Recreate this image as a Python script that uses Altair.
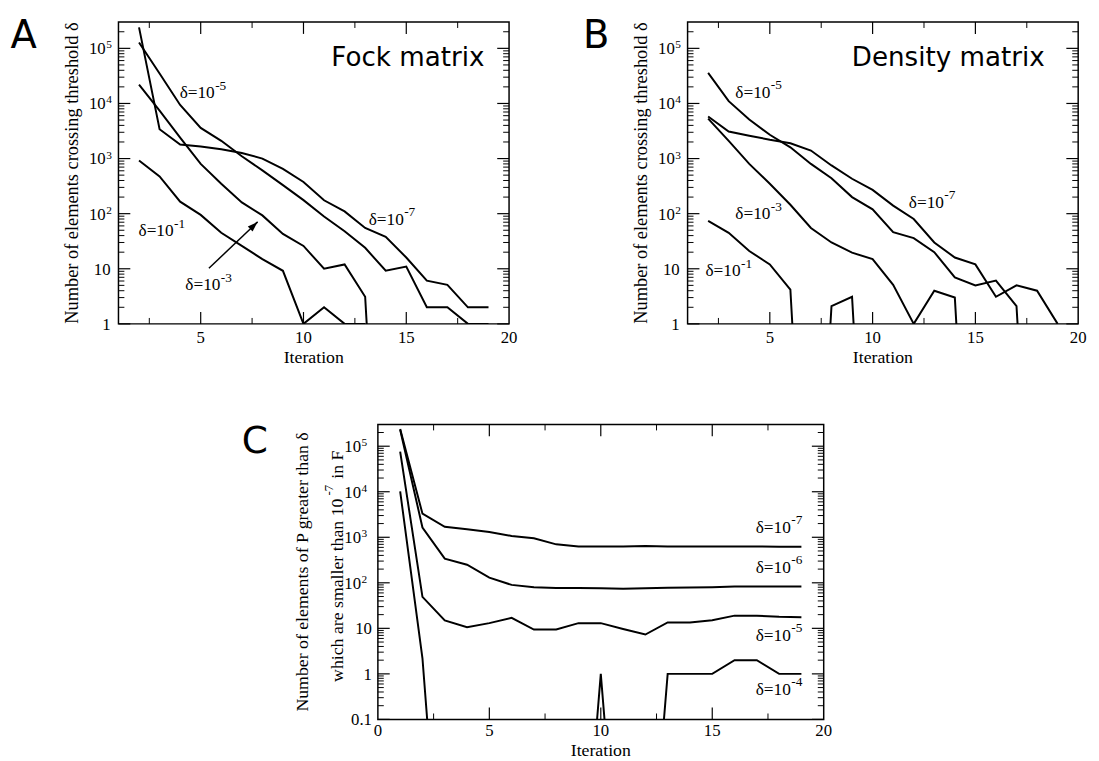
import altair as alt
import pandas as pd

SERIF = "Liberation Serif"
SANS = "DejaVu Sans"
FLOOR = 1e-6  # zero counts: drawn at an off-scale floor so the line drops out of the log axis

# ---------------- Panel A : Fock matrix (iterations start at 2) ----------------
fock_start = 2
fock_d1 = [920, 475, 165, 95, 45, 26, 15, 9.2, 1, 2, 1, 1]
fock_d3 = [2.2e4, 7.4e3, 2.4e3, 800, 350, 160, 93, 43, 26, 10, 12, 3.1, 0]
fock_d5 = [1.28e5, 3.5e4, 9.4e3, 3.6e3, 2.1e3, 1.1e3, 610, 330, 176, 89, 48, 24, 9.2, 11, 2, 2, 1, 1]
fock_d7 = [2.4e5, 3.4e3, 1.8e3, 1.65e3, 1.48e3, 1.26e3, 1.0e3, 650, 375, 175, 110, 55, 38, 16, 6.1, 5.1, 2, 2]

# ---------------- Panel B : Density matrix (iterations start at 2) ----------------
dens_start = 2
dens_d1 = [74, 45, 21, 12, 4.2, 0, 2.1, 3.1, 0]
dens_d3 = [5.3e3, 2.1e3, 800, 350, 145, 55, 30, 19.6, 15, 5.1, 1, 4, 3, 0]
dens_d5 = [3.6e4, 1.1e4, 5.1e3, 2.7e3, 1.6e3, 800, 440, 200, 120, 46, 36, 20, 7, 5, 6.1, 2.1, 0]
dens_d7 = [5.8e3, 3.1e3, 2.6e3, 2.2e3, 1.9e3, 1.4e3, 750, 430, 270, 140, 80, 30, 16, 12, 3.1, 5, 4, 1]

# ---------------- Panel C : elements of P > delta but < 1e-7 in F (start at 1) ----------------
pf_start = 1
pf_d7 = [2.4e5, 3.3e3, 1.7e3, 1.5e3, 1.3e3, 1.07e3, 950, 700, 630, 630, 630, 640, 630, 630, 630, 630, 630, 620, 620]
pf_d6 = [2.3e5, 1.64e3, 340, 250, 130, 90, 80, 77, 77, 76, 74, 76, 78, 79, 80, 83, 83, 83, 83]
pf_d5 = [7.6e4, 49, 15, 10.6, 13, 17, 9.4, 9.4, 13, 13, 9.7, 7.3, 13.5, 13.5, 15, 19, 19, 18, 17.5]
pf_d4 = [1.02e4, 2.2, 0, 0, 0, 0, 0, 0, 0, 1, 0, 0, 1, 1, 1, 2, 2, 1, 1]

# ---------------- axes / tick values ----------------
x_labels_ab = [5, 10, 15, 20]
x_labels_c = [0, 5, 10, 15, 20]
x_major = [5, 10, 15]
x_minor = [2.5, 7.5, 12.5, 17.5]
y_plain_ab = [1, 10]
y_plain_ab_text = ["1", "10"]
y_plain_c = [0.1, 1, 10]
y_plain_c_text = ["0.1", "1", "10"]
y_pow = [1e2, 1e3, 1e4, 1e5]
y_pow_exp = ["2", "3", "4", "5"]

# ---------------- curve labels (anchor in data units) ----------------
fock_lab_x = [3.975, 13.17, 1.975, 4.25]
fock_lab_y = [1.26e4, 63, 39.5, 4.06]
fock_lab_e = ["-5", "-7", "-1", "-3"]
dens_lab_x = [3.32, 11.76, 3.32, 1.87]
dens_lab_y = [1.28e4, 129, 80, 7.3]
dens_lab_e = ["-5", "-7", "-3", "-1"]
pf_lab_x = [16.95, 16.95, 16.95, 16.95]
pf_lab_y = [1.26e3, 166, 5.4, 0.35]
pf_lab_e = ["-7", "-6", "-5", "-4"]

# arrow in panel A (tail -> tip, data units)
arrow_x = [5.4, 7.77]
arrow_y = [10.2, 71]

FS_TICK, FS_TICK_EXP = 17, 11.5
FS_ANN, FS_ANN_EXP = 17.5, 13.5
FS_XTITLE = 18


def series_df(start, named):
    rows = []
    for name, vals in named.items():
        for i, v in enumerate(vals):
            rows.append({"iter": start + i, "value": v if v > 0 else FLOOR, "series": name})
    return pd.DataFrame(rows)


def log_ticks(lo_exp, top):
    major = [10.0 ** e for e in range(lo_exp, 6)]
    minor = [k * 10.0 ** e for e in range(lo_exp, 6) for k in range(2, 10) if k * 10.0 ** e < top]
    return major, minor


def one(d):
    return pd.DataFrame(d)


def txt(text, x, y, size, font=SERIF, align="left", angle=0):
    kw = dict(align=align, baseline="alphabetic", font=font, fontSize=size, color="black")
    if angle:
        kw["angle"] = angle
    return alt.Chart(one({"t": [text]})).mark_text(**kw).encode(
        x=alt.value(x), y=alt.value(y), text="t:N")


def frame(x0, x1, y0, y1):
    # invisible layout frame defining the panel's bounding box
    return alt.Chart(one({"k": [0]})).mark_rule(strokeOpacity=0, strokeWidth=0).encode(
        x=alt.value(x0), x2=alt.value(x1), y=alt.value(y0), y2=alt.value(y1))


def panel(p):
    W, H = p["W"], p["H"]
    xs = alt.Scale(domain=p["xdom"], nice=False, zero=False)
    ys = alt.Scale(type="log", domain=p["ydom"], nice=False)
    L_MAJ, L_MIN = 12, 6
    layers = [frame(*p["frame"])]

    ymaj, ymin = log_ticks(p["lo_exp"], p["ydom"][1])

    def rules_y(vals, a, b, sw):
        return alt.Chart(one({"v": vals})).mark_rule(color="black", strokeWidth=sw).encode(
            y=alt.Y("v:Q", scale=ys, axis=None), x=alt.value(a), x2=alt.value(b))

    def rules_x(vals, a, b, sw):
        return alt.Chart(one({"v": vals})).mark_rule(color="black", strokeWidth=sw).encode(
            x=alt.X("v:Q", scale=xs, axis=None), y=alt.value(a), y2=alt.value(b))

    layers += [
        rules_y(ymin, 0, L_MIN, 1), rules_y(ymin, W - L_MIN, W, 1),
        rules_y(ymaj, 0, L_MAJ, 1.2), rules_y(ymaj, W - L_MAJ, W, 1.2),
        rules_x(x_minor, H, H - L_MIN, 1), rules_x(x_minor, 0, L_MIN, 1),
        rules_x(x_major, H, H - L_MAJ, 1.2), rules_x(x_major, 0, L_MAJ, 1.2),
    ]

    layers.append(alt.Chart(p["lines"]).mark_line(color="black", strokeWidth=2, clip=True).encode(
        x=alt.X("iter:Q", scale=xs, axis=None),
        y=alt.Y("value:Q", scale=ys, axis=None),
        detail="series:N",
    ))

    # x tick labels + title
    layers.append(alt.Chart(one({"v": p["xlabels"], "t": [str(v) for v in p["xlabels"]]})).mark_text(
        align="center", baseline="alphabetic", font=SERIF, fontSize=FS_TICK, color="black").encode(
        x=alt.X("v:Q", scale=xs, axis=None), y=alt.value(H + p["xlab_dy"]), text="t:N"))
    layers.append(txt("Iteration", W / 2, H + p["xtitle_dy"], FS_XTITLE, align="center"))

    # y tick labels
    layers.append(alt.Chart(one({"v": p["plain_v"], "t": p["plain_t"]})).mark_text(
        align="right", baseline="alphabetic", dy=6, font=SERIF, fontSize=FS_TICK, color="black").encode(
        x=alt.value(p["plain_x"]), y=alt.Y("v:Q", scale=ys, axis=None), text="t:N"))
    pw = one({"v": y_pow, "b": ["10"] * len(y_pow), "e": y_pow_exp})
    layers.append(alt.Chart(pw).mark_text(
        align="right", baseline="alphabetic", dy=6, font=SERIF, fontSize=FS_TICK, color="black").encode(
        x=alt.value(p["pow_x"]), y=alt.Y("v:Q", scale=ys, axis=None), text="b:N"))
    layers.append(alt.Chart(pw).mark_text(
        align="left", baseline="alphabetic", dy=0, font=SERIF, fontSize=FS_TICK_EXP, color="black").encode(
        x=alt.value(p["pow_x"] + 0.5), y=alt.Y("v:Q", scale=ys, axis=None), text="e:N"))

    # curve labels
    an = one({"x": p["lab_x"], "y": p["lab_y"], "b": ["δ=10"] * len(p["lab_x"]), "e": p["lab_e"]})
    layers.append(alt.Chart(an).mark_text(
        align="left", baseline="alphabetic", font=SERIF, fontSize=FS_ANN, color="black").encode(
        x=alt.X("x:Q", scale=xs, axis=None), y=alt.Y("y:Q", scale=ys, axis=None), text="b:N"))
    layers.append(alt.Chart(an).mark_text(
        align="left", baseline="alphabetic", dx=36, dy=-8.5, font=SERIF, fontSize=FS_ANN_EXP,
        color="black").encode(
        x=alt.X("x:Q", scale=xs, axis=None), y=alt.Y("y:Q", scale=ys, axis=None), text="e:N"))

    # panel letter and inner title
    layers.append(txt(p["letter"], p["letter_xy"][0], p["letter_xy"][1], p["letter_size"], font=SANS))
    if p.get("title"):
        layers.append(txt(p["title"], W - p["title_dx"], 45, 26.5, font=SANS, align="right"))

    for extra in p.get("extra", []):
        layers.append(extra(xs, ys, W, H))

    return alt.layer(*layers).properties(width=W, height=H)


def arrow_layers(xs, ys, W, H):
    df = one({"x0": [arrow_x[0]], "y0": [arrow_y[0]], "x1": [arrow_x[1]], "y1": [arrow_y[1]]})
    shaft = alt.Chart(df).mark_rule(color="black", strokeWidth=1.5).encode(
        x=alt.X("x0:Q", scale=xs, axis=None), y=alt.Y("y0:Q", scale=ys, axis=None), x2="x1:Q", y2="y1:Q")
    head = alt.Chart(df).mark_point(shape="M0,0L-0.7,2.1L0.7,2.1Z", filled=True, size=100, angle=46,
                                    color="black", opacity=1, strokeWidth=0).encode(
        x=alt.X("x1:Q", scale=xs, axis=None), y=alt.Y("y1:Q", scale=ys, axis=None))
    return alt.layer(shaft, head)


def ab_ytitle(xs, ys, W, H):
    return txt("Number of elements crossing threshold δ", -41.5, H / 2, 18.6, align="center", angle=270)


def c_ytitle(xs, ys, W, H):
    return alt.layer(
        txt("Number of elements of P greater than δ", -71, H / 2, 18, align="center", angle=270),
        txt("which are smaller than 10", -35, 261, 18, angle=270),
        txt("-7", -45, 72, 13, angle=270),
        txt("in F", -35, 55, 18, angle=270),
    )


A = panel(dict(
    W=396, H=306, xdom=[1, 20], ydom=[1, 3e5], lo_exp=0, frame=[-111, 426, -8, 356],
    lines=series_df(fock_start, {"d1": fock_d1, "d3": fock_d3, "d5": fock_d5, "d7": fock_d7}),
    xlabels=x_labels_ab, xlab_dy=19.4, xtitle_dy=39.4,
    plain_v=y_plain_ab, plain_t=y_plain_ab_text, plain_x=-8, pow_x=-13,
    lab_x=fock_lab_x, lab_y=fock_lab_y, lab_e=fock_lab_e,
    letter="A", letter_size=39, letter_xy=[-109.5, 26], title="Fock matrix", title_dx=25,
    extra=[ab_ytitle, arrow_layers],
))

B = panel(dict(
    W=396, H=306, xdom=[1, 20], ydom=[1, 3e5], lo_exp=0, frame=[-148.3, 408, -8, 356],
    lines=series_df(dens_start, {"d1": dens_d1, "d3": dens_d3, "d5": dens_d5, "d7": dens_d7}),
    xlabels=x_labels_ab, xlab_dy=19.4, xtitle_dy=39.4,
    plain_v=y_plain_ab, plain_t=y_plain_ab_text, plain_x=-8, pow_x=-13,
    lab_x=dens_lab_x, lab_y=dens_lab_y, lab_e=dens_lab_e,
    letter="B", letter_size=39, letter_xy=[-106, 26], title="Density matrix", title_dx=34,
    extra=[ab_ytitle],
))

C = panel(dict(
    W=452, H=299, xdom=[0, 20], ydom=[0.1, 3e5], lo_exp=-1, frame=[-140, 462, -50, 330],
    lines=series_df(pf_start, {"d7": pf_d7, "d6": pf_d6, "d5": pf_d5, "d4": pf_d4}),
    xlabels=x_labels_c, xlab_dy=17, xtitle_dy=37.4,
    plain_v=y_plain_c, plain_t=y_plain_c_text, plain_x=-6, pow_x=-17,
    lab_x=pf_lab_x, lab_y=pf_lab_y, lab_e=pf_lab_e,
    letter="C", letter_size=38, letter_xy=[-138, 28.5],
    extra=[c_ytitle],
))

# empty spacer that shifts panel C to the centre of the bottom row
spacer = alt.layer(frame(0, 122, 0, 1)).properties(
    width=122, height=1, view=alt.ViewBackground(strokeOpacity=0))

chart = alt.vconcat(
    alt.hconcat(A, B, spacing=0),
    alt.hconcat(spacer, C, spacing=0),
    spacing=0,
).properties(padding=0, background="white").configure_view(stroke="black", strokeWidth=1.5)

chart.save("out.html", embed_options={"renderer": "svg", "actions": False})
